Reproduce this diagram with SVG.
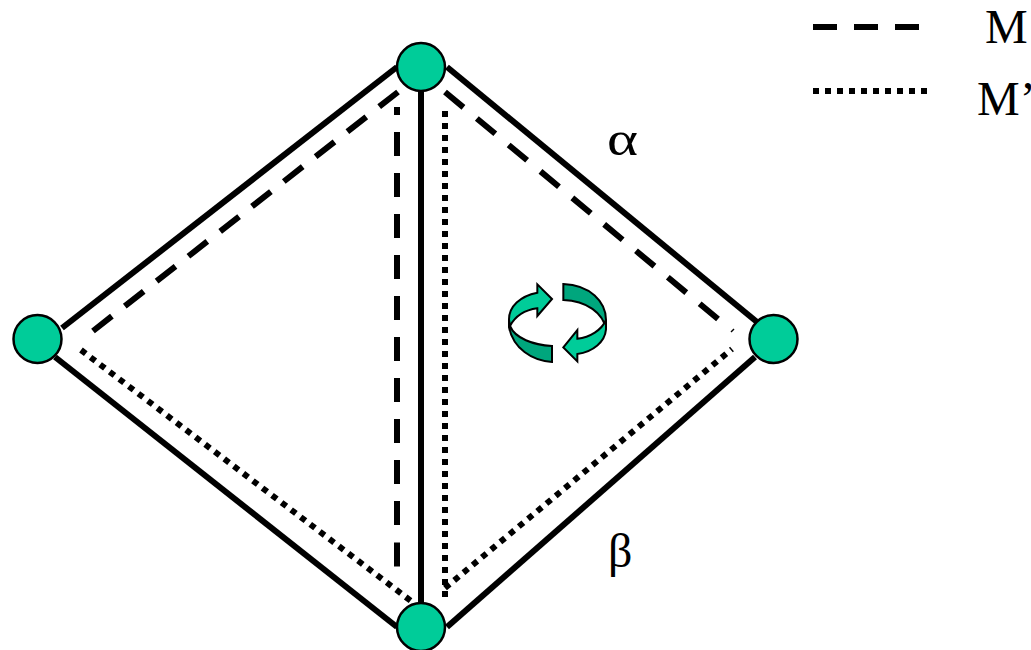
<svg xmlns="http://www.w3.org/2000/svg" width="1031" height="650" viewBox="0 0 1031 650">
<style>
.edge{stroke:#000;stroke-width:6;fill:none}
.dash{stroke:#000;stroke-width:6;fill:none;stroke-dasharray:24 17}
.dot{stroke:#000;stroke-width:6;fill:none;stroke-dasharray:6 6}
.node{fill:#00CC99;stroke:#000;stroke-width:2.500}
.lab{font-family:"Liberation Serif","Times New Roman",serif;font-size:48px;fill:#000}
.lt{fill:#00CC99;stroke:#000;stroke-width:6}
.dk{fill:#00A67D;stroke:#000;stroke-width:6}
</style>
<g id="connectors">
<path class="edge" d="M62 328L397 67"/>
<path class="edge" d="M447 67L757 322"/>
<path class="edge" d="M55 357L397 627"/>
<path class="edge" d="M447 627L755 357"/>
<path class="edge" d="M421 90V604"/>
<path class="dash" style="stroke-dasharray:24 16.400" d="M93 331L398 92"/>
<path class="dash" style="stroke-dasharray:8 17 24 17 24 17 24 17 24 17 24 17 24 17 24 17 24 17 24 17 24 17.500 24" d="M397 107V571"/>
<path class="dash" style="stroke-dasharray:24 17.400" d="M445 92L718 319"/>
<path class="edge" style="stroke-width:1.500" d="M731 332L734 329"/>
<path class="dot" d="M81 350L411 601"/>
<path class="dot" d="M445 111V603"/>
<path class="dot" d="M445 588L732 349"/>
<path class="dash" d="M813 27H921"/>
<path class="dot" d="M813 91H927"/>
</g>
<g id="node-top"><circle class="node" cx="421" cy="67" r="24"/></g>
<g id="node-left"><circle class="node" cx="37.500" cy="339" r="24"/></g>
<g id="node-right"><circle class="node" cx="773.500" cy="339" r="24"/></g>
<g id="node-bottom"><circle class="node" cx="421" cy="627" r="24"/></g>
<g id="cycle" transform="translate(490 270) scale(.33333)">
<path class="dk" d="M57 148V172C70 235 125 272 186 276V228C130 225 75 205 60 168Z"/>
<path class="lt" d="M186 87L142 43V68C90 78 57 110 57 148L60 168C75 140 105 120 142 115V138Z"/>
<path class="dk" d="M220 42C300 45 348 95 348 150V178C340 130 290 92 220 90Z"/>
<path class="lt" d="M220 232L262 180V206C300 202 335 180 348 150V178C345 215 310 245 262 252V274Z"/>
</g>
<g id="labels">
<text class="lab" x="985" y="43">M</text>
<text class="lab" x="977" y="115">M’</text>
<text class="lab" x="607" y="155" textLength="31" lengthAdjust="spacingAndGlyphs">α</text>
<text class="lab" x="608" y="567">β</text>
</g>
</svg>
